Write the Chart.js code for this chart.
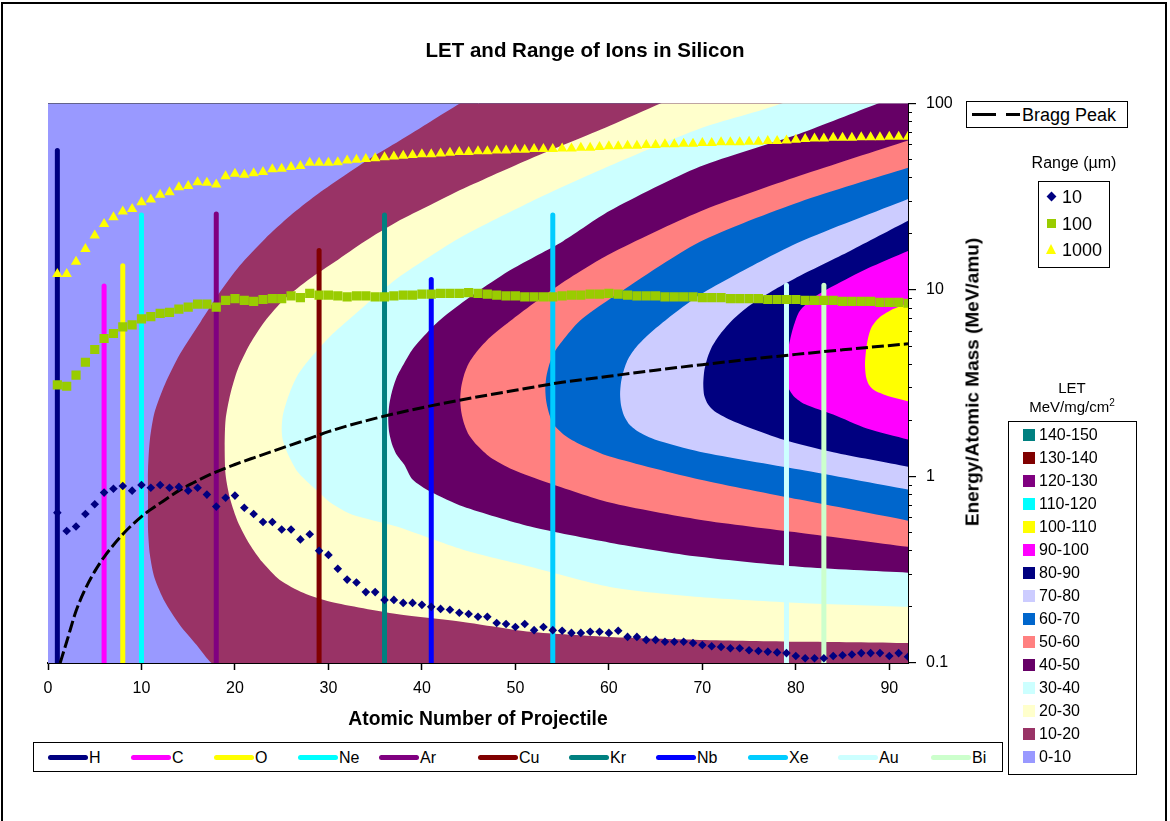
<!DOCTYPE html>
<html>
<head>
<meta charset="utf-8">
<title>LET and Range of Ions in Silicon</title>
<script src="https://cdn.jsdelivr.net/npm/chart.js@4.4.1/dist/chart.umd.min.js"></script>
<style>
  html, body { margin: 0; padding: 0; background: #fff; }
  #wrap { position: relative; width: 1170px; height: 821px; overflow: hidden;
          font-family: 'Liberation Sans', Arial, sans-serif; color: #000; }
  #frame { position: absolute; left: 1px; top: 2px; width: 1166px; height: 860px;
           border: 2px solid #000; box-sizing: border-box; }
  #chart { position: absolute; left: 0; top: 0; }
  .box { position: absolute; border: 1px solid #000; background: #fff; box-sizing: border-box; }
  .txt { position: absolute; white-space: nowrap; line-height: 1; }
  #ytitle { position: absolute; left: 972px; top: 382px; white-space: nowrap;
            font-weight: bold; font-size: 19px; line-height: 1;
            transform: translate(-50%, -50%) rotate(-90deg); }
  .ionItem { position: absolute; top: 0; height: 100%; }
  .ionLine { position: absolute; left: 0; top: 12px; width: 40px; height: 5px; border-radius: 3px; }
  .ionName { position: absolute; left: 41px; top: 7px; font-size: 16px; line-height: 1; }
  .letRow { position: absolute; left: 14px; height: 16px; }
  .letSwatch { position: absolute; left: 0; top: 2px; width: 12px; height: 12px; }
  .letName { position: absolute; left: 16px; top: 0; font-size: 16px; line-height: 16px; white-space: nowrap; }
</style>
</head>
<body>
<div id="wrap">
  <div id="frame"></div>
  <canvas id="chart" width="1170" height="821"></canvas>
  <div id="ytitle">Energy/Atomic Mass (MeV/amu)</div>

  <div class="box" style="left:966px; top:101px; width:162px; height:27px;">
    <svg width="50" height="25" style="position:absolute; left:3px; top:0;">
      <line x1="2" y1="12.5" x2="50" y2="12.5" stroke="#000" stroke-width="3" stroke-dasharray="24 10"></line>
    </svg>
    <div class="txt" style="left:55px; top:4px; font-size:18px;">Bragg Peak</div>
  </div>

  <div class="txt" style="left:1074px; top:155px; font-size:16px; transform:translateX(-50%);">Range (µm)</div>
  <div class="box" id="rangeBox" style="left:1038px; top:181px; width:72px; height:87px;"></div>

  <div class="txt" style="left:1072px; top:380px; font-size:15px; transform:translateX(-50%);">LET</div>
  <div class="txt" style="left:1072px; top:398px; font-size:15px; transform:translateX(-50%);">MeV/mg/cm<sup style="font-size:10px;">2</sup></div>
  <div class="box" id="letBox" style="left:1008px; top:421px; width:129px; height:354px;"></div>

  <div class="box" id="ionBox" style="left:33px; top:742px; width:970px; height:30px;"></div>
</div>

<script>
// ---- Range curves: projectile energy per nucleon giving a 10 / 100 / 1000 µm range in Si ----
const atomicNumbers = [1,2,3,4,5,6,7,8,9,10,11,12,13,14,15,16,17,18,19,20,21,22,23,24,25,26,27,28,29,30,
  31,32,33,34,35,36,37,38,39,40,41,42,43,44,45,46,47,48,49,50,51,52,53,54,55,56,57,58,59,60,
  61,62,63,64,65,66,67,68,69,70,71,72,73,74,75,76,77,78,79,80,81,82,83,84,85,86,87,88,89,90,91,92];
const range10um = [0.64,0.51,0.54,0.63,0.71,0.82,0.86,0.89,0.84,0.90,
  0.87,0.90,0.87,0.88,0.84,0.87,0.80,0.69,0.77,0.79,
  0.68,0.63,0.57,0.57,0.52,0.52,0.46,0.49,0.40,0.38,
  0.32,0.28,0.27,0.24,0.24,0.218,0.218,0.21,0.21,0.205,
  0.20,0.195,0.193,0.186,0.183,0.177,0.177,0.164,0.162,0.156,
  0.162,0.150,0.156,0.150,0.149,0.145,0.145,0.147,0.147,0.145,
  0.149,0.138,0.138,0.133,0.133,0.130,0.130,0.130,0.128,0.125,
  0.123,0.122,0.120,0.120,0.117,0.116,0.115,0.114,0.113,0.109,
  0.106,0.106,0.106,0.109,0.110,0.111,0.113,0.113,0.113,0.109,
  0.113,0.108];
const range100um = [3.1,3.05,3.5,4.1,4.8,5.5,5.85,6.35,6.5,7.0,7.2,7.5,7.6,7.9,8.1,8.4,8.4,8.1,8.8,9.0,
  8.8,8.7,8.9,9.0,9.0,9.3,9.1,9.6,9.4,9.4,
  9.3,9.2,9.3,9.3,9.2,9.2,9.3,9.4,9.4,9.5,9.5,9.6,9.6,9.6,9.7,9.6,9.5,9.4,9.3,9.3,
  9.2,9.2,9.2,9.2,9.3,9.4,9.4,9.5,9.5,9.6,
  9.5,9.4,9.3,9.3,9.3,9.2,9.2,9.2,9.2,9.1,9.1,9.1,9.0,9.0,9.0,9.0,8.9,8.9,8.9,8.9,
  8.8,8.8,8.8,8.8,8.7,8.7,8.7,8.7,8.6,8.6,8.6,8.5];
const range1000um = [12.2,12.2,14.2,16.6,19.6,22.6,24.6,26.4,27.2,29.6,30.6,32.4,33.5,35.6,36.1,37.9,37.6,36.8,40.8,42.0,
  41.5,42.3,43.0,44.4,44.8,45.7,46.3,48.2,48.2,48.2,
  48.5,49.5,50,50.5,51,51.5,52,52.5,53,53.5,53.5,54,54.5,55,55,55.5,55.5,56,56,56.5,
  56.5,57,57,57,57.5,57.5,58,58,58.5,59,
  59,59.5,59.5,60,60,60.5,60.5,61,61,61.5,61.5,62,62,62,62.5,62.5,63,63,63.5,64,
  64.5,65,65,65.5,65.5,65.5,66,66,66,66.5,66.5,66.5];
const rangeLabels = ['10', '100', '1000'];

// ---- Bragg peak energy per nucleon vs Z ----
const braggZ = [1.3,2,3,4,5,6,8,10,12,14,16,18,20,22,25,28,30,35,40,45,50,55,60,65,70,75,80,85,92];
const braggEnergy = [0.1,0.13,0.19,0.25,0.31,0.37,0.49,0.61,0.72,0.84,0.95,1.06,1.16,1.26,1.42,1.6,1.74,
  2.05,2.34,2.62,2.9,3.2,3.45,3.72,3.98,4.25,4.52,4.78,5.15];

// ---- Available beams: Z and maximum energy per nucleon ----
const ionNames = ['H','C','O','Ne','Ar','Cu','Kr','Nb','Xe','Au','Bi'];
const ionZ = [1,6,8,10,18,29,36,41,54,79,83];
const ionTopEnergy = [56,10.5,13.5,25.3,25.6,16.3,25.3,11.4,25.3,10.6,10.6];

// ---- LET contours (MeV·cm²/mg): each level as upper and lower branch, [Z, E/A], from the nose outwards ----
const let10Upper = [[10.7,0.75],[10.7,1.09],[10.9,1.58],[11.4,2.21],[12.5,3.12],[14.1,4.53],[16.3,6.73],[18.4,9.75],
  [20.5,13.5],[23.2,18.8],[25.9,25],[28.6,32],[31.2,39.5],[34.4,50.6],[37.6,63.2],[40.9,80],[44.4,102.5],[48.3,133],[59,262],[92,1000]];
const let10Lower = [[10.7,0.75],[10.7,0.519],[10.9,0.381],[11.4,0.286],[12.5,0.213],[14.1,0.16],[15.9,0.125],[17.5,0.1],[22,0.07],[92,0.02]];
const let20Upper = [[18.9,1.45],[19.0,2.02],[19.5,2.76],[20.3,3.76],[21.6,5.13],[23.2,6.81],[25.3,8.95],[28.0,11.5],
  [30.7,14.2],[33.9,18.3],[37.3,23.2],[40.9,28.6],[44.4,34.9],[51.6,50.6],[60.1,76],[66.0,102.5],[75.1,154],[92,400]];
const let20Lower = [[18.9,1.45],[19.0,1.02],[19.5,0.752],[20.3,0.573],[21.6,0.431],[22.9,0.349],[24.8,0.279],[27.3,0.238],
  [30.2,0.213],[37.3,0.183],[44.4,0.166],[51.6,0.147],[60.1,0.138],[69.7,0.133],[80.4,0.130],[92,0.128]];
const let30Upper = [[25.0,1.79],[25.1,2.10],[25.5,2.50],[26.0,2.94],[26.7,3.49],[27.7,4.10],[28.9,4.82],[30.2,5.66],
  [32.5,7.16],[37.3,11.5],[40.9,15.2],[44.4,19.5],[51.6,29.7],[60.1,46.4],[69.7,73.4],[79.0,102.5],[85,150],[92,250]];
const let30Lower = [[25.0,1.79],[25.1,1.58],[25.5,1.38],[26.0,1.22],[26.7,1.06],[27.7,0.94],[28.9,0.83],[30.2,0.725],
  [32.5,0.625],[37.3,0.539],[44.4,0.405],[51.6,0.328],[60.1,0.256],[69.7,0.226],[80.4,0.210],[92,0.2]];
const let40Upper = [[36.4,2.02],[36.5,2.41],[36.8,2.86],[37.3,3.41],[38.1,4.05],[39.0,4.82],[40.9,6.17],[42.7,7.43],
  [46.2,10],[49.7,13.0],[55.1,18.3],[60.1,26.6],[69.7,45.8],[80.4,69],[89.3,102.5],[92,115]];
const let40Lower = [[36.4,2.02],[36.5,1.72],[36.8,1.49],[37.3,1.31],[38.1,1.16],[39.0,0.964],[40.9,0.83],[44.4,0.69],
  [51.6,0.539],[60.1,0.442],[69.7,0.371],[80.4,0.328],[92,0.305]];
const let50Upper = [[44.1,2.59],[44.2,3.01],[44.5,3.49],[45.0,4.04],[45.9,4.70],[47.3,5.59],[49.7,6.98],[55.1,11.0],
  [60.1,15.6],[69.7,26.3],[80.4,41.0],[92,63.5]];
const let50Lower = [[44.1,2.59],[44.2,2.24],[44.5,1.93],[45.0,1.68],[45.9,1.47],[47.3,1.27],[49.7,1.09],[53.4,0.928],
  [60.1,0.725],[69.7,0.587],[80.4,0.50],[92,0.42]];
const let60Upper = [[53.2,2.94],[53.3,3.41],[53.6,3.95],[54.1,4.59],[55.0,5.32],[56.9,6.85],[60.1,8.95],[69.7,18.1],
  [80.4,29.7],[92,45.3]];
const let60Lower = [[53.2,2.94],[53.3,2.53],[53.6,2.18],[54.1,1.90],[55.3,1.66],[56.9,1.49],[60.1,1.28],[69.7,0.964],
  [80.4,0.752],[92,0.58]];
const let70Upper = [[61.2,2.76],[61.3,3.20],[61.6,3.72],[62.1,4.31],[63.0,5.0],[64.4,5.87],[66.2,6.98],[69.7,9.4],
  [73.3,11.9],[80.4,18.1],[92,30.8]];
const let70Lower = [[61.2,2.76],[61.3,2.41],[61.6,2.13],[62.2,1.90],[63.3,1.72],[64.9,1.58],[69.7,1.36],[80.4,1.09],[92,0.851]];
const let80Upper = [[70.1,3.12],[70.2,3.67],[70.5,4.26],[71.0,4.94],[71.9,5.80],[73.3,6.98],[75.1,8.3],[77.8,10.1],
  [80.4,11.9],[85.8,16.2],[92,23.5]];
const let80Lower = [[70.1,3.12],[70.2,2.72],[70.6,2.44],[71.3,2.24],[73.3,1.98],[78.6,1.58],[84.0,1.35],[92,1.13]];
const let90Upper = [[79.0,3.32],[79.1,4.53],[79.4,5.45],[79.8,6.49],[80.4,7.71],[82.0,9.17],[84.0,10.5],[87.6,13.0],[92,16.2]];
const let90Lower = [[79.0,3.32],[79.1,3.05],[79.8,2.69],[81.0,2.44],[84.0,2.15],[87.6,1.81],[92,1.58]];
const let100Upper = [[87.4,4.0],[87.5,4.70],[87.7,5.45],[88.1,6.32],[89.0,7.16],[90.4,7.91],[92,8.51]];
const let100Lower = [[87.4,4.0],[87.5,3.45],[87.8,3.12],[88.4,2.90],[89.7,2.72],[92,2.53]];

// LET band legend (top to bottom)
const letBandLabels = ['140-150','130-140','120-130','110-120','100-110','90-100','80-90','70-80',
  '60-70','50-60','40-50','30-40','20-30','10-20','0-10'];

// ---- Axis ticks ----
const zTicks = [0,10,20,30,40,50,60,70,80,90];
const energyTicks = [0.1, 1, 10, 100];
const energyTickLabels = ['0.1', '1', '10', '100'];
const energyMinorTicks = [0.2,0.3,0.4,0.5,0.6,0.7,0.8,0.9,2,3,4,5,6,7,8,9,20,30,40,50,60,70,80,90];

// ---- Styling ----
const FONT = "'Liberation Sans', Arial, sans-serif";
const ionColors = ['#000080','#FF00FF','#FFFF00','#00FFFF','#800080','#800000','#008080','#0000FF','#00CCFF','#CCFFFF','#CCFFCC'];
const letBandColors = ['#008080','#800000','#800080','#00FFFF','#FFFF00','#FF00FF','#000080','#CCCCFF',
  '#0066CC','#FF8080','#660066','#CCFFFF','#FFFFCC','#993366','#9999FF'];
const contourLevels = [
  [let10Upper, let10Lower, '#993366'],
  [let20Upper, let20Lower, '#FFFFCC'],
  [let30Upper, let30Lower, '#CCFFFF'],
  [let40Upper, let40Lower, '#660066'],
  [let50Upper, let50Lower, '#FF8080'],
  [let60Upper, let60Lower, '#0066CC'],
  [let70Upper, let70Lower, '#CCCCFF'],
  [let80Upper, let80Lower, '#000080'],
  [let90Upper, let90Lower, '#FF00FF'],
  [let100Upper, let100Lower, '#FFFF00']
];

const asPoints = (xs, ys) => xs.map((x, i) => ({ x: x, y: ys[i] }));
const fromPairs = pairs => pairs.map(p => ({ x: p[0], y: p[1] }));

const datasets = [];

// range markers (drawn on top)
datasets.push({ label: '10', data: asPoints(atomicNumbers, range10um), showLine: false,
  pointStyle: 'rectRot', pointRadius: 4.3, pointBackgroundColor: '#000080', pointBorderWidth: 0, order: 1 });
datasets.push({ label: '100', data: asPoints(atomicNumbers, range100um), showLine: false,
  pointStyle: 'rect', pointRadius: 6.5, pointBackgroundColor: '#99CC00', pointBorderWidth: 0, order: 2 });
datasets.push({ label: '1000', data: asPoints(atomicNumbers, range1000um), showLine: false,
  pointStyle: 'triangle', pointRadius: 6, pointBackgroundColor: '#FFFF00', pointBorderWidth: 0, order: 3 });

// Bragg peak
datasets.push({ label: 'Bragg Peak', data: asPoints(braggZ, braggEnergy), borderColor: '#000', borderWidth: 3,
  borderDash: [12, 4], pointRadius: 0, fill: false, cubicInterpolationMode: 'monotone', order: 4 });

// available beams: vertical lines from the axis to the maximum energy
ionNames.forEach((name, i) => {
  datasets.push({ label: name, data: [{ x: ionZ[i], y: 0.1 }, { x: ionZ[i], y: ionTopEnergy[i] }],
    borderColor: ionColors[i], borderWidth: 5, borderCapStyle: 'round', pointRadius: 0, fill: false, order: 5 });
});

// LET contour regions, outermost first
contourLevels.forEach(([upper, lower, color], i) => {
  const outline = upper.slice().reverse().concat(lower.slice(1));
  datasets.push({ label: 'LET ' + (i + 1) * 10, data: fromPairs(outline), fill: 'shape',
    backgroundColor: color, borderColor: 'rgba(0,0,0,0)', borderWidth: 0, pointRadius: 0,
    tension: 0.25, order: 40 - i });
});

datasets.forEach(d => { d.xAxisID = 'x'; d.yAxisID = 'y'; });

const plotBackground = {
  id: 'plotBackground',
  beforeDatasetsDraw(chart) {
    const { ctx, chartArea: a } = chart;
    ctx.save();
    ctx.fillStyle = '#9999FF';
    ctx.fillRect(a.left, a.top, a.right - a.left, a.bottom - a.top);
    ctx.restore();
  }
};

new Chart(document.getElementById('chart'), {
  type: 'line',
  data: { datasets: datasets },
  plugins: [plotBackground],
  options: {
    responsive: false,
    animation: false,
    devicePixelRatio: 1,
    events: [],
    layout: { padding: { left: 0, right: 0, top: 0, bottom: 90 } },
    plugins: {
      legend: { display: false },
      tooltip: { enabled: false },
      title: { display: true, text: 'LET and Range of Ions in Silicon', color: '#000',
        font: { family: FONT, size: 20.5, weight: 'bold' }, padding: { top: 39, bottom: 40 } }
    },
    scales: {
      x: {
        type: 'linear', position: 'bottom', min: 0, max: 92, z: 1,
        afterBuildTicks: s => { s.ticks = zTicks.map(v => ({ value: v })); },
        ticks: { color: '#000', font: { family: FONT, size: 16 }, padding: 9, maxRotation: 0, autoSkip: false },
        grid: { drawOnChartArea: false, tickLength: 7, tickColor: '#000', tickWidth: 1.5 },
        border: { color: '#000', width: 2 },
        title: { display: true, text: 'Atomic Number of Projectile', color: '#000',
          font: { family: FONT, size: 19.3, weight: 'bold' }, padding: 0 },
        afterFit: s => { s.height = 68; }
      },
      xTop: {
        type: 'linear', position: 'top', min: 0, max: 92, z: 1,
        ticks: { display: false }, grid: { display: false },
        border: { color: '#404040', width: 1 },
        afterFit: s => { s.height = 0; }
      },
      yLeft: {
        type: 'linear', position: 'left', min: 0, max: 1, z: 1,
        ticks: { display: false }, grid: { display: false },
        border: { color: '#404040', width: 1 },
        afterFit: s => { s.width = 48; }
      },
      yMinor: {
        type: 'logarithmic', position: 'right', min: 0.1, max: 100, weight: -1, z: 1,
        afterBuildTicks: s => { s.ticks = energyMinorTicks.map(v => ({ value: v })); },
        ticks: { display: false },
        grid: { drawOnChartArea: false, tickLength: 4, tickColor: '#000', tickWidth: 1 },
        border: { display: false },
        afterFit: s => { s.width = 0; }
      },
      y: {
        type: 'logarithmic', position: 'right', min: 0.1, max: 100, z: 1,
        afterBuildTicks: s => { s.ticks = energyTicks.map(v => ({ value: v, major: true })); },
        ticks: { color: '#000', font: { family: FONT, size: 16 }, padding: 10,
          callback: (v, i) => energyTickLabels[i] },
        grid: {
          color: c => (c.tick && (c.tick.value === 1 || c.tick.value === 10)) ? '#000' : 'rgba(0,0,0,0)',
          lineWidth: 1.2, tickLength: 8, tickColor: '#000', tickWidth: 1.2
        },
        border: { color: '#000', width: 2 },
        afterFit: s => { s.width = 262; }
      }
    }
  }
});

// ---- Legends ----
const rangeBox = document.getElementById('rangeBox');
const rangeMarkers = [
  '<div style="position:absolute;left:7px;top:4px;width:7px;height:7px;background:#000080;transform:rotate(45deg);"></div>',
  '<div style="position:absolute;left:6px;top:3px;width:9px;height:9px;background:#99CC00;"></div>',
  '<div style="position:absolute;left:5px;top:2px;width:0;height:0;border-left:5.5px solid transparent;border-right:5.5px solid transparent;border-bottom:10px solid #FFFF00;"></div>'
];
rangeLabels.forEach((lab, i) => {
  const row = document.createElement('div');
  row.style.cssText = 'position:absolute;left:2px;top:' + (7 + i * 26.5) + 'px;height:16px;width:66px;';
  row.innerHTML = rangeMarkers[i] + '<div class="txt" style="left:21px;top:-1px;font-size:18px;">' + lab + '</div>';
  rangeBox.appendChild(row);
});

const letBox = document.getElementById('letBox');
letBandLabels.forEach((lab, i) => {
  const row = document.createElement('div');
  row.className = 'letRow';
  row.style.top = (5 + i * 23) + 'px';
  row.innerHTML = '<div class="letSwatch" style="background:' + letBandColors[i] + ';"></div><div class="letName">' + lab + '</div>';
  letBox.appendChild(row);
});

const ionBox = document.getElementById('ionBox');
const ionSlots = [14, 97, 180, 264, 345, 444, 535, 622, 714, 804, 897];
ionNames.forEach((name, i) => {
  const item = document.createElement('div');
  item.className = 'ionItem';
  item.style.left = ionSlots[i] + 'px';
  item.innerHTML = '<div class="ionLine" style="background:' + ionColors[i] + ';"></div><div class="ionName">' + name + '</div>';
  ionBox.appendChild(item);
});
</script>
</body>
</html>
